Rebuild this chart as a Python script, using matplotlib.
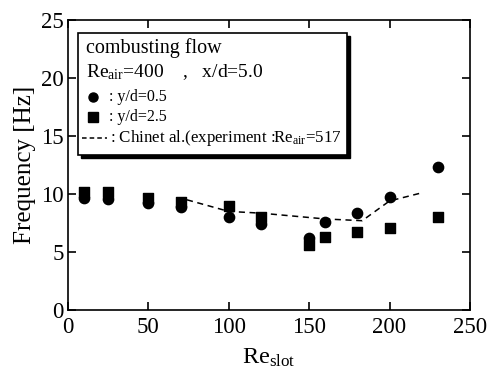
import matplotlib
matplotlib.use("Agg")
import matplotlib.pyplot as plt
from matplotlib.patches import Rectangle

plt.rcParams['font.family'] = ['Liberation Serif', 'DejaVu Serif']
plt.rcParams['mathtext.fontset'] = 'custom'
plt.rcParams['mathtext.rm'] = 'Liberation Serif'
plt.rcParams['mathtext.it'] = 'Liberation Serif:italic'

re_slot = [10, 25, 50, 70, 100, 120, 150, 160, 180, 200, 230]
freq_y05 = [9.65, 9.6, 9.2, 8.9, 8.0, 7.4, 6.2, 7.6, 8.4, 9.7, 12.3]
freq_y25 = [10.2, 10.2, 9.65, 9.3, 9.0, 8.0, 5.6, 6.3, 6.7, 7.05, 8.0]
chin_x = [74, 100, 120, 160, 183, 200, 220]
chin_y = [9.5, 8.5, 8.35, 7.85, 7.7, 9.4, 10.1]

fig = plt.figure(figsize=(4.91, 3.71), dpi=100)
ax = fig.add_axes([0.1385, 0.1644, 0.8185, 0.7816])

ax.plot(chin_x, chin_y, color='black', linestyle=(0, (4, 3)), linewidth=1.1)
ax.scatter(re_slot, freq_y05, marker='o', s=55, color='black', zorder=3)
ax.scatter(re_slot, freq_y25, marker='s', s=55, color='black', zorder=3)

ax.set_xlim(0, 250)
ax.set_ylim(0, 25)
ax.set_xticks([0, 50, 100, 150, 200, 250])
ax.set_yticks([0, 5, 10, 15, 20, 25])
ax.tick_params(direction='in', top=True, right=True, labelsize=16.5, length=6, width=1.2)
ax.tick_params(axis='x', pad=5)
ax.tick_params(axis='y', pad=3)
for s in ax.spines.values():
    s.set_linewidth(1.2)
ax.set_xlabel(r'Re$_{\rm slot}$', fontsize=17.5, labelpad=6)
ax.set_ylabel('Frequency [Hz]', fontsize=18, labelpad=4)

def ax_xy(px, py):
    return (px - 68) / 402, (310 - py) / 290

# legend box with shadow
x0, y0 = ax_xy(78, 155)
x1, y1 = ax_xy(347, 33)
sx, sy = 3 / 402, 3 / 290
ax.add_patch(Rectangle((x0 + sx, y0 - sy), x1 - x0, y1 - y0, transform=ax.transAxes,
                       facecolor='black', edgecolor='black', zorder=4))
ax.add_patch(Rectangle((x0, y0), x1 - x0, y1 - y0, transform=ax.transAxes,
                       facecolor='white', edgecolor='black', linewidth=1.2, zorder=5))

tx, ty = ax_xy(86, 48)
ax.text(tx, ty, 'combusting flow', transform=ax.transAxes, fontsize=14.5, va='center', zorder=6)
tx, ty = ax_xy(86, 72)
ax.text(tx, ty, r'Re$_{\rm air}$=400    ,   x/d=5.0', transform=ax.transAxes, fontsize=14, va='center', zorder=6)
mx, my = ax_xy(93, 97)
ax.plot([mx], [my], marker='o', color='black', markersize=6.5, transform=ax.transAxes, zorder=6, clip_on=False)
tx, _ = ax_xy(109, 97)
ax.text(tx, my, ': y/d=0.5', transform=ax.transAxes, fontsize=11.5, va='center', zorder=6)
mx, my = ax_xy(93, 117)
ax.plot([mx], [my], marker='s', color='black', markersize=6.5, transform=ax.transAxes, zorder=6, clip_on=False)
ax.text(tx, my, ': y/d=2.5', transform=ax.transAxes, fontsize=11.5, va='center', zorder=6)
lx0, ly = ax_xy(82, 138)
lx1, _ = ax_xy(107, 138)
ax.plot([lx0, lx1], [ly, ly], color='black', linestyle=(0, (3, 2)), linewidth=1.1, transform=ax.transAxes, zorder=6)
tx, _ = ax_xy(110, 138)
ax.text(tx, ly, r': Chinet al.(experiment :Re$_{\rm air}$=517', transform=ax.transAxes, fontsize=12.2, va='center', zorder=6)

fig.savefig('out.png', dpi=100)
